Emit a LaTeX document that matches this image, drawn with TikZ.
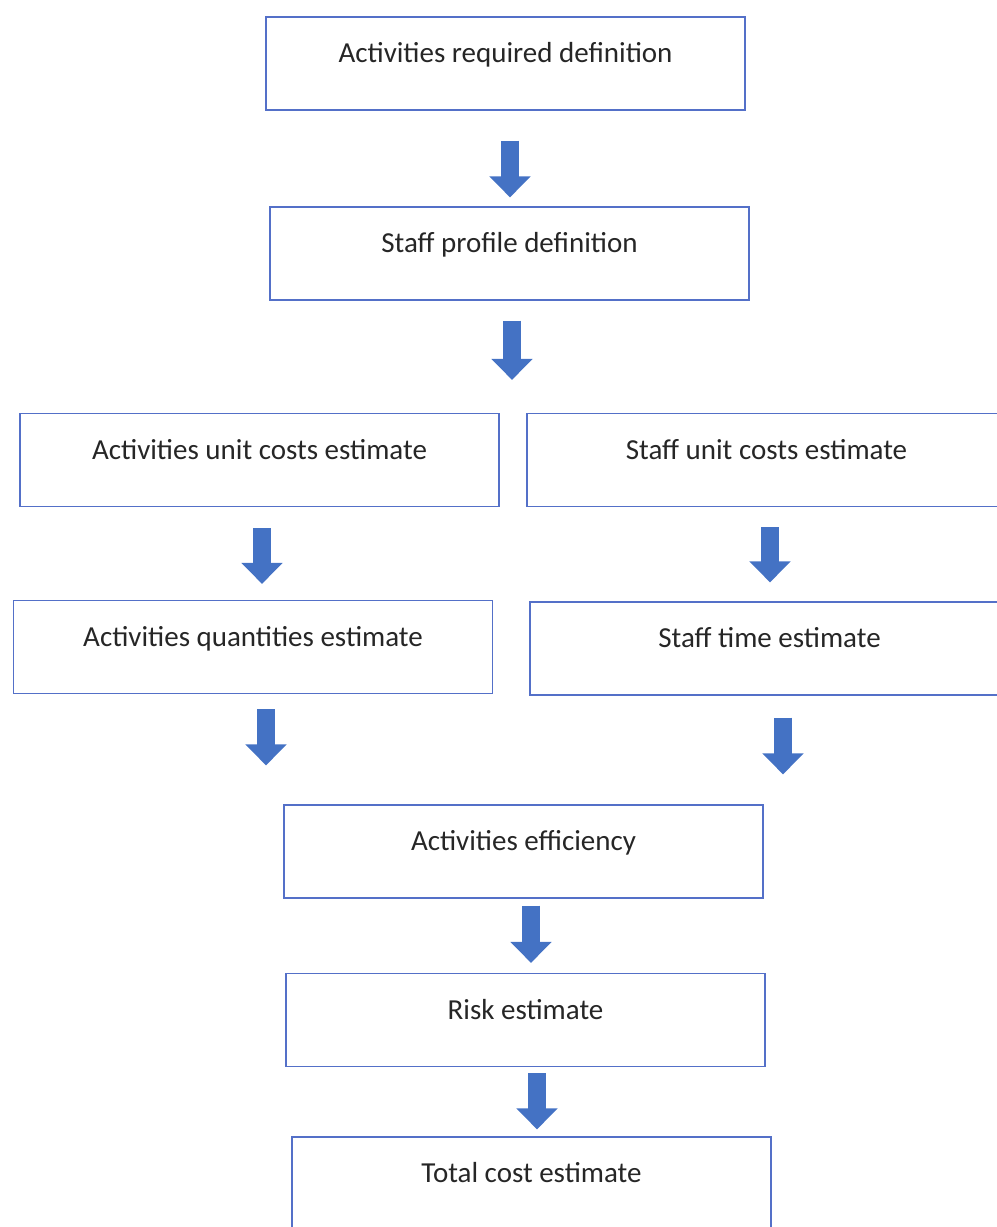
\documentclass[tikz,border=0pt]{standalone}
\usepackage{fontspec}
\setmainfont{Carlito}
\usetikzlibrary{arrows.meta,positioning,calc}
\definecolor{boxblue}{RGB}{84,112,200}
\definecolor{arrblue}{RGB}{68,114,196}
\tikzset{
  box/.style={draw=boxblue, line width=0.7pt, minimum width=9.58cm, minimum height=1.86cm, inner sep=0pt,
    text height=12pt, text depth=13pt, font=\fontsize{16.5}{20}\selectfont, text=black!85},
  blk/.style={line width=0.36cm, draw=arrblue, -{Triangle[width=0.8cm, length=0.42cm, fill=arrblue]}}}

\begin{document}
\begin{tikzpicture}[x=0.02cm, y=-0.02cm]
  \useasboundingbox (0,0) rectangle (997,1227);
  \node[box] (req) at (505.5,63.5) {Activities required definition};
  \node[box] (prof) at (509.5,253.5) {Staff profile definition};
  \node[box] (ucost) at (259.5,460) {Activities unit costs estimate};
  \node[box] (scost) at (766.5,460) {Staff unit costs estimate};
  \node[box] (qty) at (253,647) {Activities quantities estimate};
  \node[box] (stime) at (769.5,648.5) {Staff time estimate};
  \node[box] (eff) at (523.5,851.5) {Activities efficiency};
  \node[box] (risk) at (525.5,1020) {Risk estimate};
  \node[box] (total) at (531.5,1183.5) {Total cost estimate};
  % block arrows: from / to / x offset / gap below / gap above target
  \foreach \a/\b/\dx/\dy/\s in {req/prof/4.5/30/0.18cm, prof/ucost/2.5/20/0.66cm,
      ucost/qty/2.5/21/0.32cm, scost/stime/3.5/20/0.38cm, qty/eff/13/15/0.78cm,
      stime/eff/13.5/22/0.6cm, eff/risk/7.5/7/0.2cm, risk/total/11.5/6/0.14cm}{
    \coordinate (t) at ($(\a.south)+(\dx,\dy)$);
    \draw[blk, shorten >=\s] (t) -- (t |- \b.north);
  }
\end{tikzpicture}
\end{document}
